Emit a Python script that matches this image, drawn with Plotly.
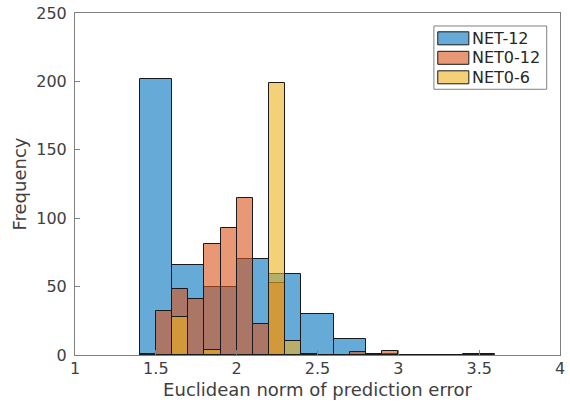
import plotly.graph_objects as go

# NET-12 histogram (bin width 0.2)
net12_edges = [1.4, 1.6, 1.8, 2.0, 2.2, 2.4, 2.6, 2.8, 3.0, 3.2, 3.4, 3.6]
net12_counts = [202, 66, 50, 70, 59, 30, 12, 1, 0, 0, 1]

# NET0-12 histogram (bin width 0.1)
net012_edges = [1.4, 1.5, 1.6, 1.7, 1.8, 1.9, 2.0, 2.1, 2.2, 2.3, 2.4, 2.5, 2.6, 2.7, 2.8, 2.9, 3.0, 3.1, 3.2]
net012_counts = [0, 32, 48, 41, 81, 93, 115, 23, 53, 0, 0, 0, 0, 2, 1, 3, 0, 0]

# NET0-6 histogram (bin width 0.1)
net06_edges = [1.4, 1.5, 1.6, 1.7, 1.8, 1.9, 2.0, 2.1, 2.2, 2.3, 2.4, 2.5]
net06_counts = [1, 0, 28, 0, 4, 0, 0, 0, 199, 10, 1]

series_names = ["NET-12", "NET0-12", "NET0-6"]
series_colors = ["rgba(0,114,189,0.6)", "rgba(217,83,25,0.6)", "rgba(237,177,32,0.6)"]
series = list(zip(series_names,
                  [net12_edges, net012_edges, net06_edges],
                  [net12_counts, net012_counts, net06_counts],
                  series_colors))

fig = go.Figure()
for name, edges, counts, color in series:
    centers = [(a + b) / 2 for a, b in zip(edges[:-1], edges[1:])]
    widths = [b - a for a, b in zip(edges[:-1], edges[1:])]
    fig.add_trace(go.Bar(
        x=centers, y=counts, width=widths, name=name, showlegend=False,
        marker=dict(color=color, line=dict(color="#1a1a1a", width=1)),
    ))

# Custom legend (MATLAB-style) in paper coordinates
lx0, lx1, ly0, ly1 = 0.740, 0.9726, 0.777, 0.962
fig.add_shape(type="rect", xref="paper", yref="paper", x0=lx0, x1=lx1, y0=ly0, y1=ly1,
              line=dict(color="#808080", width=1), fillcolor="white", layer="above")
row_y = [0.926, 0.869, 0.812]
for name, color, ry in zip(series_names, series_colors, row_y):
    fig.add_shape(type="rect", xref="paper", yref="paper",
                  x0=0.748, x1=0.812, y0=ry - 0.019, y1=ry + 0.019,
                  line=dict(color="#1a1a1a", width=1), fillcolor=color, layer="above")
    fig.add_annotation(xref="paper", yref="paper", x=0.814, y=ry, text=name,
                       xanchor="left", yanchor="middle", showarrow=False,
                       font=dict(family="DejaVu Sans", size=16, color="#262626"))

font = dict(family="DejaVu Sans", size=16, color="#404040")
title_font = dict(family="DejaVu Sans", size=18, color="#404040")
axis_common = dict(
    showline=True, mirror=True, linecolor="#808080", linewidth=1,
    ticks="inside", ticklen=5, tickcolor="#808080", automargin=False,
    showgrid=False, zeroline=False, tickfont=font,
)
fig.update_layout(
    width=570, height=407,
    margin=dict(l=75, r=10, t=13, b=52),
    paper_bgcolor="white", plot_bgcolor="white",
    barmode="overlay", bargap=0,
    font=font,
    xaxis=dict(range=[1, 4], dtick=0.5, tick0=1, ticklabelstandoff=-1,
               title=dict(text="Euclidean norm of prediction error", font=title_font, standoff=6),
               **axis_common),
    yaxis=dict(range=[0, 250], dtick=50, tick0=0, ticklabelstandoff=4,
               title=dict(text="Frequency", font=title_font, standoff=4),
               **axis_common),
)

fig.write_html("out.html")
